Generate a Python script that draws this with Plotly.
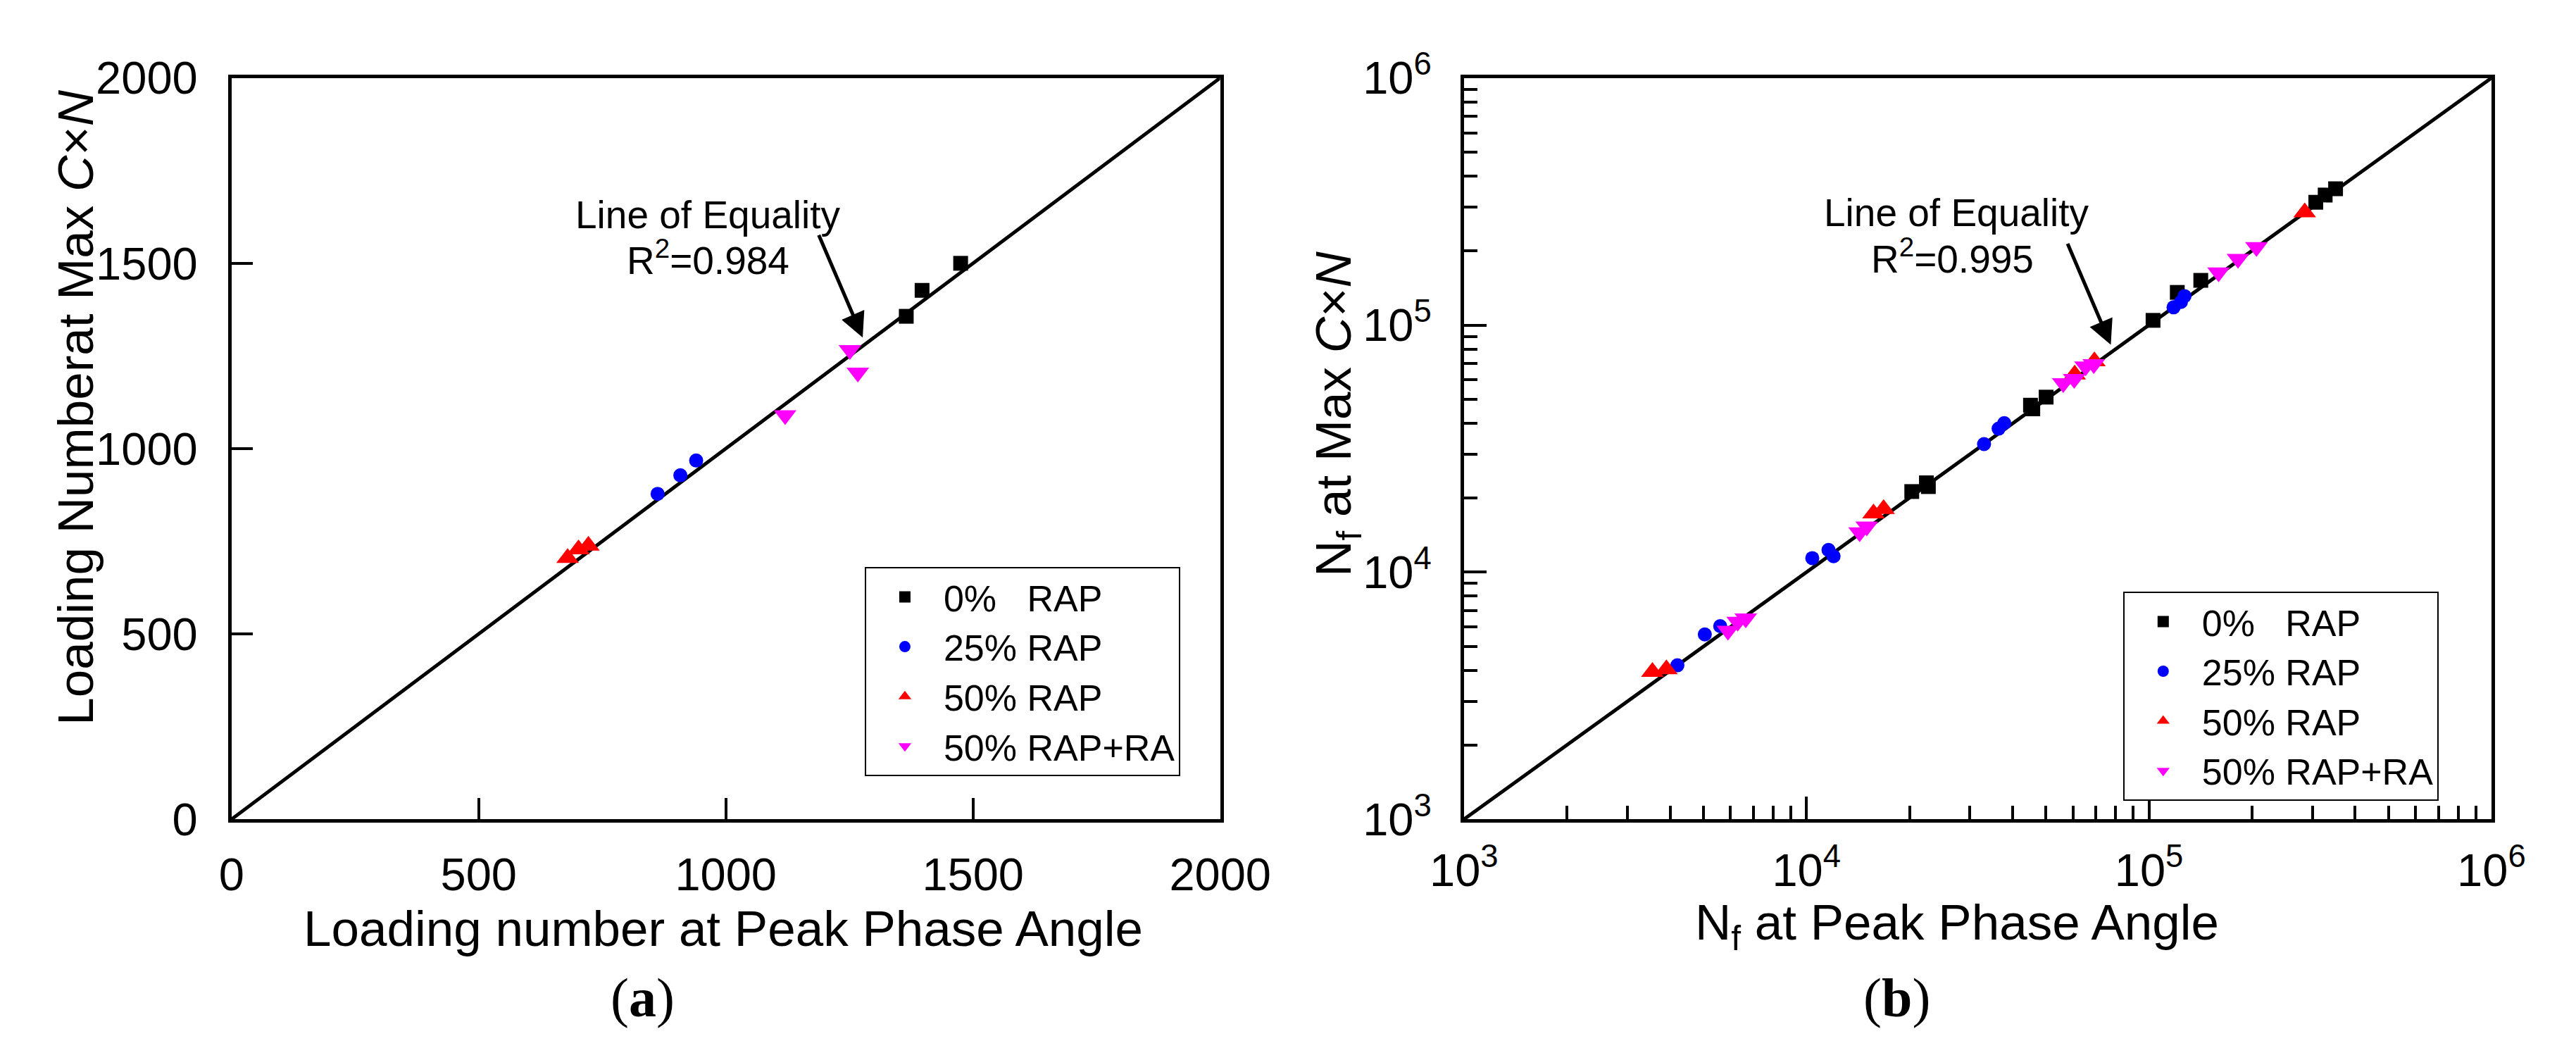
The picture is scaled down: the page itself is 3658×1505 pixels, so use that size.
import plotly.graph_objects as go

# (a) loading number at peak phase angle vs loading number at max CxN
a_rap0_x = [1365, 1397, 1475]
a_rap0_y = [1357, 1427, 1500]
a_rap25_x = [862, 908, 940]
a_rap25_y = [878, 928, 968]
a_rap50_x = [680, 702, 722]
a_rap50_y = [705, 728, 738]
a_rapra_x = [1120, 1251, 1267]
a_rapra_y = [1090, 1266, 1205]

# (b) Nf at peak phase angle vs Nf at max CxN
b_rap0_x = [20300, 22400, 22700, 45100, 45800, 50100, 102800, 121000, 141700, 307000, 327000, 350700]
b_rap0_y = [21200, 23000, 22200, 47400, 45800, 51100, 104500, 135600, 151700, 314000, 336000, 356000]
b_rap25_x = [4200, 5050, 5600, 10400, 11600, 12000, 33000, 36400, 37800, 118000, 124000, 127000]
b_rap25_y = [4200, 5600, 6050, 11400, 12300, 11600, 33000, 38100, 40100, 118000, 124000, 131000]
b_rap50_x = [3550, 3900, 15700, 16800, 60700, 69300, 285000]
b_rap50_y = [3950, 4050, 17300, 18000, 63100, 71400, 286000]
b_rapra_x = [5900, 6300, 6650, 14300, 15000, 56200, 60500, 65300, 69000, 159700, 182000, 206000]
b_rapra_y = [5800, 6300, 6500, 14500, 15300, 58200, 60500, 68000, 69500, 163300, 185300, 207000]

series_names = ["0%\u00a0\u00a0\u00a0RAP", "25% RAP", "50% RAP", "50% RAP+RA"]
colors = ["black", "blue", "red", "magenta"]
symbols = ["square", "circle", "triangle-up", "triangle-down"]
sizes = [21, 20, 28, 28]

a_lin = [0, 2000]
b_lin = [1e3, 1e6]
b_ticks = [1e3, 1e4, 1e5, 1e6]
b_ticktext = ["10<sup>3</sup>", "10<sup>4</sup>", "10<sup>5</sup>", "10<sup>6</sup>"]
b_minor = [k * 10 ** d for d in range(3, 6) for k in range(2, 10)]

W, H = 3658, 1505
FONT = "Arial, Liberation Sans, sans-serif"

fig = go.Figure()

a_sets = [(a_rap0_x, a_rap0_y), (a_rap25_x, a_rap25_y), (a_rap50_x, a_rap50_y), (a_rapra_x, a_rapra_y)]
b_sets = [(b_rap0_x, b_rap0_y), (b_rap25_x, b_rap25_y), (b_rap50_x, b_rap50_y), (b_rapra_x, b_rapra_y)]

fig.add_trace(go.Scatter(x=a_lin, y=a_lin, mode="lines", line=dict(color="black", width=5),
                         showlegend=False, xaxis="x", yaxis="y"))
fig.add_trace(go.Scatter(x=b_lin, y=b_lin, mode="lines", line=dict(color="black", width=5),
                         showlegend=False, xaxis="x2", yaxis="y2"))

for i, (xs, ys) in enumerate(a_sets):
    fig.add_trace(go.Scatter(x=xs, y=ys, mode="markers", name=series_names[i],
                             marker=dict(color=colors[i], symbol=symbols[i], size=sizes[i]),
                             xaxis="x", yaxis="y", legend="legend"))
for i, (xs, ys) in enumerate(b_sets):
    fig.add_trace(go.Scatter(x=xs, y=ys, mode="markers", name=series_names[i],
                             marker=dict(color=colors[i], symbol=symbols[i], size=sizes[i]),
                             xaxis="x2", yaxis="y2", legend="legend2"))

y_top, y_bot = 1 - 60 / H, 1 - 1174 / H

axis_common = dict(showline=True, linecolor="black", linewidth=5, mirror=True,
                   showgrid=False, zeroline=False, ticks="inside", tickcolor="black",
                   tickwidth=4, tickfont=dict(family=FONT, size=65, color="black"))

legend_common = dict(xanchor="left", yanchor="top", bordercolor="black", borderwidth=2,
                     bgcolor="white", font=dict(family=FONT, size=52, color="black"),
                     itemwidth=100)

fig.update_layout(
    width=W, height=H,
    margin=dict(l=0, r=0, t=0, b=0),
    paper_bgcolor="white", plot_bgcolor="white",
    font=dict(family=FONT, color="black"),
    xaxis=dict(domain=[281 / W, 1733 / W], range=[0, 2000], tickvals=[0, 500, 1000, 1500, 2000],
               ticklen=30, anchor="y", ticklabelstandoff=18, **axis_common),
    yaxis=dict(domain=[y_bot, y_top], range=[0, 2000], tickvals=[0, 500, 1000, 1500, 2000],
               ticklen=30, anchor="x", ticklabelstandoff=30, **axis_common),
    xaxis2=dict(domain=[2091 / W, 3600 / W], type="log", range=[3, 6], tickvals=b_ticks,
                ticktext=b_ticktext, ticklen=32, anchor="y2", ticklabelstandoff=12,
                minor=dict(tickvals=b_minor, ticks="inside", ticklen=19, tickwidth=4, tickcolor="black"),
                **axis_common),
    yaxis2=dict(domain=[y_bot, y_top], type="log", range=[3, 6], tickvals=b_ticks,
                ticktext=b_ticktext, ticklen=32, anchor="x2", ticklabelstandoff=28,
                minor=dict(tickvals=b_minor, ticks="inside", ticklen=19, tickwidth=4, tickcolor="black"),
                **axis_common),
    legend=dict(x=1211 / W, y=1 - 795 / H, **legend_common),
    legend2=dict(x=3059 / W, y=1 - 832 / H, **legend_common),
)

notes = [
    (52 / W, 1 - 555 / H, "Loading Numberat Max <i>C</i>×<i>N</i>", 71, -90, FONT),
    (1003 / W, 1 - 1338 / H, "Loading number at Peak Phase Angle", 71, 0, FONT),
    (1905 / W, 1 - 565 / H, "N<sub>f</sub> at Max <i>C</i>×<i>N</i>", 71, -90, FONT),
    (2815 / W, 1 - 1335 / H, "N<sub>f</sub> at Peak Phase Angle", 71, 0, FONT),
    (885 / W, 1 - 1442 / H, "(<b>a</b>)", 78, 0, "Liberation Serif, Times New Roman, serif"),
    (2727 / W, 1 - 1442 / H, "(<b>b</b>)", 78, 0, "Liberation Serif, Times New Roman, serif"),
    (981 / W, 1 - 266 / H, "Line of Equality", 55, 0, FONT),
    (981 / W, 1 - 330 / H, "R<sup>2</sup>=0.984", 55, 0, FONT),
    (2815 / W, 1 - 262 / H, "Line of Equality", 55, 0, FONT),
    (2808 / W, 1 - 328 / H, "R<sup>2</sup>=0.995", 55, 0, FONT),
]
for x, y, text, size, angle, fam in notes:
    fig.add_annotation(x=x, y=y, xref="paper", yref="paper", text=text, showarrow=False,
                       textangle=angle, xanchor="center", yanchor="middle",
                       font=dict(family=fam, size=size, color="black"))

# arrows pointing at the line of equality
arrows = [((1208, 450), (1145, 303)), ((3041, 461), (2979, 316))]
for (hx, hy), (tx, ty) in arrows:
    fig.add_annotation(x=hx / W, y=1 - hy / H, xref="paper", yref="paper", text="",
                       showarrow=True, ax=tx - hx, ay=ty - hy, axref="pixel", ayref="pixel",
                       arrowhead=2, arrowsize=1.4, arrowwidth=5, arrowcolor="black")

fig.write_html("out.html")
